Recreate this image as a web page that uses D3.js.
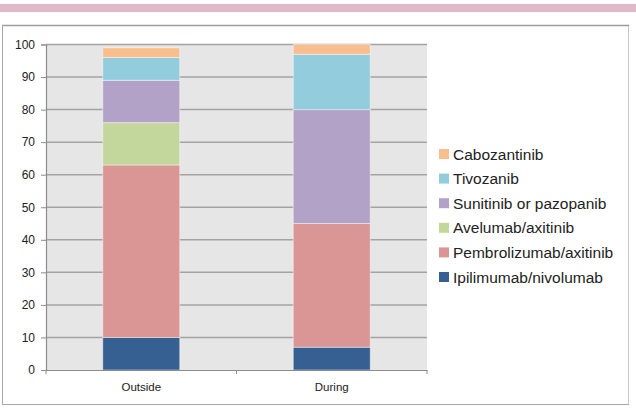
<!DOCTYPE html>
<html>
<head>
<meta charset="utf-8">
<script src="https://cdn.jsdelivr.net/npm/d3@7"></script>
<style>
  body { margin: 0; background: #fff; }
  svg { display: block; font-family: 'Liberation Sans', Arial, sans-serif; }
</style>
</head>
<body>
<script>
// chart data
const categories = ['Outside', 'During'];
const series = ['Ipilimumab/nivolumab', 'Pembrolizumab/axitinib', 'Avelumab/axitinib',
  'Sunitinib or pazopanib', 'Tivozanib', 'Cabozantinib'];
const outsideValues = [10, 53, 13, 13, 7, 3];
const duringValues = [7, 38, 0, 35, 17, 3];
const colors = ['#365f92', '#d99694', '#c3d69b', '#b2a2c7', '#93cddd', '#f9be8e'];
const yTicks = [0, 10, 20, 30, 40, 50, 60, 70, 80, 90, 100];

const width = 636;
const height = 412;

const svg = d3.select('body')
  .append('svg')
  .attr('width', width)
  .attr('height', height);

// pink band at the very top
svg.append('rect')
  .attr('x', 0).attr('y', 4)
  .attr('width', width).attr('height', 8)
  .attr('fill', '#dfb8c9');

// chart frame
svg.append('rect')
  .attr('x', 2.5).attr('y', 25.5)
  .attr('width', 626).attr('height', 379)
  .attr('fill', '#fff')
  .attr('stroke', '#c8c8c8')
  .attr('stroke-width', 1);
svg.append('line')
  .attr('x1', 2).attr('x2', 629).attr('y1', 25.5).attr('y2', 25.5)
  .attr('stroke', '#9c9c9c').attr('stroke-width', 1.5);
svg.append('line')
  .attr('x1', 2).attr('x2', 629).attr('y1', 404.5).attr('y2', 404.5)
  .attr('stroke', '#a8a8a8').attr('stroke-width', 1.2);
svg.append('line')
  .attr('x1', 2.5).attr('x2', 2.5).attr('y1', 25).attr('y2', 405)
  .attr('stroke', '#a8a8a8').attr('stroke-width', 1);

const plot = { left: 46, right: 427, top: 44.5, bottom: 370 };

const x = d3.scaleBand()
  .domain(categories)
  .range([plot.left, plot.right])
  .paddingInner(0.596)
  .paddingOuter(0.298);

const y = d3.scaleLinear()
  .domain([0, 100])
  .range([plot.bottom, plot.top]);

// plot background
svg.append('rect')
  .attr('x', plot.left).attr('y', plot.top)
  .attr('width', plot.right - plot.left)
  .attr('height', plot.bottom - plot.top)
  .attr('fill', '#e6e6e6');

// gridlines
svg.append('g')
  .selectAll('line')
  .data(yTicks.filter((d) => d > 0))
  .enter()
  .append('line')
  .attr('x1', plot.left).attr('x2', plot.right)
  .attr('y1', (d) => y(d)).attr('y2', (d) => y(d))
  .attr('stroke', '#a3a3a3')
  .attr('stroke-width', 1.5);

// stacked bars
const rows = categories.map((c, i) => {
  const vals = i === 0 ? outsideValues : duringValues;
  const row = { category: c };
  series.forEach((s, j) => { row[s] = vals[j]; });
  return row;
});

const stack = d3.stack().keys(series)(rows);

svg.append('g')
  .selectAll('g')
  .data(stack)
  .enter()
  .append('g')
  .attr('fill', (d, i) => colors[i])
  .selectAll('rect')
  .data((d) => d.filter((p) => p[1] > p[0]))
  .enter()
  .append('rect')
  .attr('x', (d) => x(d.data.category))
  .attr('width', x.bandwidth())
  .attr('y', (d) => y(d[1]))
  .attr('height', (d) => y(d[0]) - y(d[1]))
  .attr('stroke', 'rgba(255,255,255,0.45)')
  .attr('stroke-width', 1);

// y axis
const yAxis = svg.append('g')
  .attr('transform', `translate(${plot.left},0)`)
  .call(d3.axisLeft(y).tickValues(yTicks).tickSize(5).tickPadding(6));
yAxis.select('.domain').attr('stroke', '#8c8c8c').attr('stroke-width', 1.2);
yAxis.selectAll('.tick line').attr('stroke', '#8c8c8c');
yAxis.selectAll('text')
  .attr('font-size', '12px')
  .attr('fill', '#222')
  .attr('font-family', "'Liberation Sans', Arial, sans-serif");

// x axis
const xAxis = svg.append('g')
  .attr('transform', `translate(0,${plot.bottom})`)
  .call(d3.axisBottom(x).tickSize(0).tickPadding(13));
xAxis.select('.domain').attr('stroke', '#8c8c8c').attr('stroke-width', 1.2);
xAxis.selectAll('text')
  .attr('font-size', '11.5px')
  .attr('fill', '#222')
  .attr('font-family', "'Liberation Sans', Arial, sans-serif");

// category boundary ticks
const boundaries = [plot.left, (plot.left + plot.right) / 2, plot.right];
svg.append('g')
  .selectAll('line')
  .data(boundaries)
  .enter()
  .append('line')
  .attr('x1', (d) => d).attr('x2', (d) => d)
  .attr('y1', plot.bottom).attr('y2', plot.bottom + 4)
  .attr('stroke', '#8c8c8c');

// legend, top entry is the last series
const legendItems = series.map((s, i) => ({ name: s, color: colors[i] })).reverse();
const legend = svg.append('g')
  .selectAll('g')
  .data(legendItems)
  .enter()
  .append('g')
  .attr('transform', (d, i) => `translate(439,${154 + i * 24.6})`);

legend.append('rect')
  .attr('x', 0).attr('y', -5)
  .attr('width', 10).attr('height', 10)
  .attr('fill', (d) => d.color);

legend.append('text')
  .attr('x', 14)
  .attr('y', 5.5)
  .attr('font-size', '15.5px')
  .attr('fill', '#222')
  .text((d) => d.name);
</script>
</body>
</html>
